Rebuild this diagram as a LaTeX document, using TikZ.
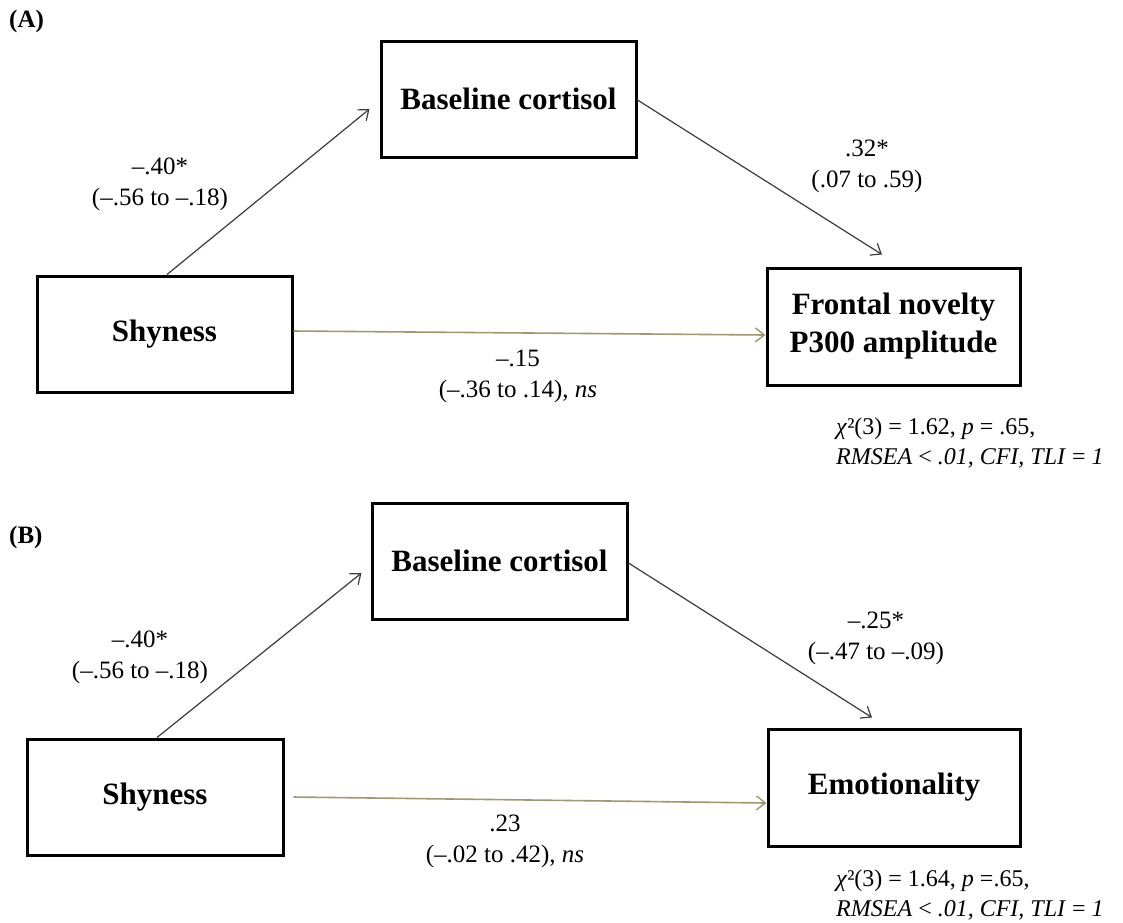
\documentclass[tikz,border=0pt]{standalone}
\usepackage{fontspec}
\setmainfont{Liberation Serif}
\usetikzlibrary{arrows.meta}
\definecolor{olive}{RGB}{160,152,112}
\definecolor{arrgray}{RGB}{60,60,60}
\tikzset{
  varbox/.style={draw=black, line width=3pt, fill=white, align=center,
    font=\fontsize{31}{38}\selectfont\bfseries, inner sep=0pt},
  path/.style={draw=arrgray, line width=1.2pt, -{Straight Barb[length=9pt,width=14pt,line width=1.2pt]}},
  olivepath/.style={draw=olive, line width=1.6pt, -{Straight Barb[length=9pt,width=14pt,line width=1.4pt]}},
  coef/.style={align=center, font=\fontsize{25}{31}\selectfont, inner sep=0pt},
  fit/.style={align=left, anchor=west, font=\fontsize{24}{30}\selectfont, inner sep=0pt},
  panel/.style={anchor=west, font=\fontsize{25}{28}\selectfont\bfseries, inner sep=0pt}
}
\begin{document}
\begin{tikzpicture}[x=1pt,y=-1pt]
\useasboundingbox[fill=white] (0,0) rectangle (1123,922);
% Panel A
\node[panel] (labA) at (9,21) {(A)};
\node[varbox, minimum width=255pt, minimum height=116pt] (cortA) at (508.5,99) {Baseline cortisol};
\node[varbox, minimum width=255pt, minimum height=116pt] (shyA) at (164.5,334) {Shyness};
\node[varbox, minimum width=253pt, minimum height=117pt] (front) at (893.5,326.5) {Frontal novelty\\P300 amplitude};
\draw[path] ([xshift=2.5pt]shyA.north) -- ([xshift=-10pt,yshift=-10pt]cortA.west);
\draw[path] ([yshift=-1pt]cortA.east) -- ([xshift=-11.5pt,yshift=12pt]front.north);
\draw[olivepath] ([yshift=3pt]shyA.east) -- ([yshift=-8.5pt]front.west);
\node[coef] (cA1) at (160,184) {–.40*\\(–.56 to –.18)};
\node[coef] (cA2) at (867,166) {.32*\\(.07 to .59)};
\node[coef] (cA3) at (518,376) {–.15\\(–.36 to .14), \textit{ns}};
\node[fit] (fitA) at (836,443) {\textit{χ}²(3) = 1.62, \textit{p} = .65,\\\textit{RMSEA} < \textit{.01, CFI, TLI} = \textit{1}};
% Panel B
\node[panel] (labB) at (9,537) {(B)};
\node[varbox, minimum width=255pt, minimum height=116pt] (cortB) at (499.5,561) {Baseline cortisol};
\node[varbox, minimum width=256pt, minimum height=116pt] (shyB) at (155,797) {Shyness};
\node[varbox, minimum width=252pt, minimum height=117pt] (emo) at (894,787.5) {Emotionality};
\draw[path] ([xshift=2pt]shyB.north) -- ([xshift=-9pt,yshift=-12pt]cortB.west);
\draw[path] ([yshift=-2pt]cortB.east) -- ([xshift=-22pt,yshift=10pt]emo.north);
\draw[olivepath] ([xshift=9pt]shyB.east) -- ([yshift=-15.5pt]emo.west);
\node[coef] (cB1) at (140,657) {–.40*\\(–.56 to –.18)};
\node[coef] (cB2) at (876,638) {–.25*\\(–.47 to –.09)};
\node[coef] (cB3) at (505,841) {.23\\(–.02 to .42), \textit{ns}};
\node[fit] (fitB) at (836,895) {\textit{χ}²(3) = 1.64, \textit{p} =.65,\\\textit{RMSEA} < \textit{.01, CFI, TLI} = \textit{1}};
\end{tikzpicture}
\end{document}
